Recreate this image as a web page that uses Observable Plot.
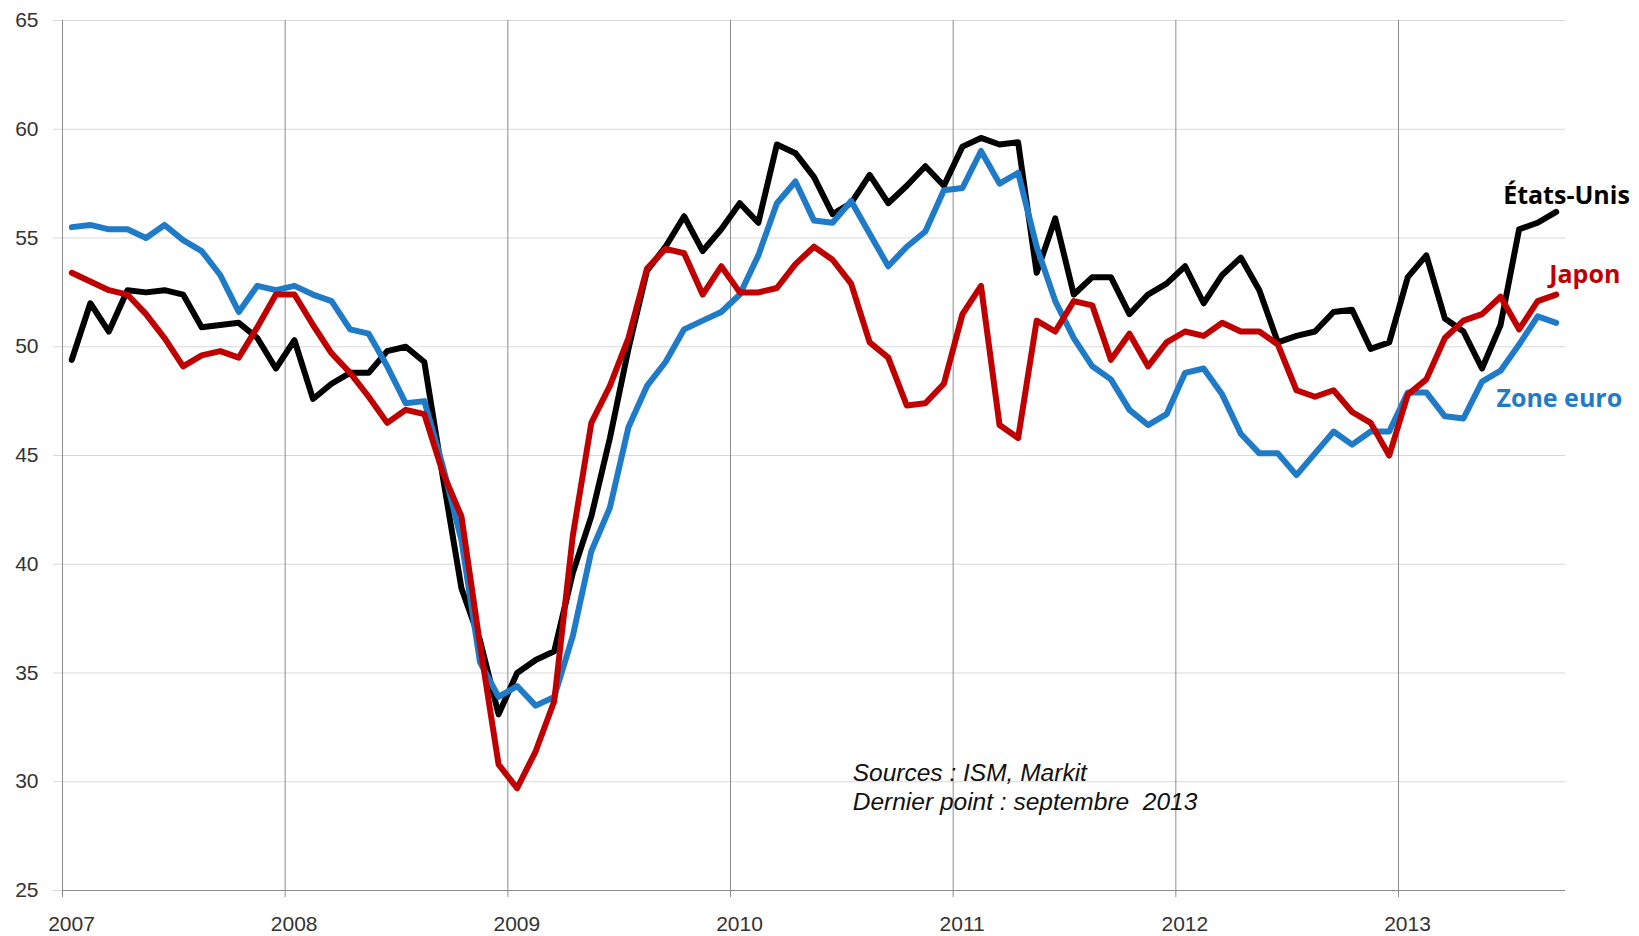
<!DOCTYPE html>
<html>
<head>
<meta charset="utf-8">
<script src="https://cdn.jsdelivr.net/npm/d3@7"></script>
<script src="https://cdn.jsdelivr.net/npm/@observablehq/plot@0.6"></script>
<style>
  html, body { margin: 0; padding: 0; background: #ffffff; }
  #chart svg { display: block; }
</style>
</head>
<body>
<div id="chart"></div>
<script>
// ---- Data (monthly PMI, janvier 2007 – septembre 2013) ----
const years = [2007, 2008, 2009, 2010, 2011, 2012, 2013];
const yTicks = [25, 30, 35, 40, 45, 50, 55, 60, 65];
const firstYear = 2007;

const etatsUnis = [
  49.4, 52.0, 50.7, 52.6, 52.5, 52.6, 52.4, 50.9, 51.0, 51.1, 50.4, 49.0,
  50.3, 47.6, 48.3, 48.8, 48.8, 49.8, 50.0, 49.3, 44.0, 38.9, 36.5, 33.1,
  35.0, 35.6, 36.0, 39.6, 42.2, 45.8, 49.9, 53.5, 54.6, 56.0, 54.4, 55.4,
  56.6, 55.7, 59.3, 58.9, 57.8, 56.1, 56.6, 57.9, 56.6, 57.4, 58.3, 57.4,
  59.2, 59.6, 59.3, 59.4, 53.4, 55.9, 52.4, 53.2, 53.2, 51.5, 52.4, 52.9,
  53.7, 52.0, 53.3, 54.1, 52.6, 50.2, 50.5, 50.7, 51.6, 51.7, 49.9, 50.2,
  53.2, 54.2, 51.3, 50.7, 49.0, 51.0, 55.4, 55.7, 56.2
];
const japon = [
  53.4, 53.0, 52.6, 52.4, 51.5, 50.4, 49.1, 49.6, 49.8, 49.5, 50.9, 52.4,
  52.4, 51.0, 49.7, 48.8, 47.7, 46.5, 47.1, 46.9, 44.2, 42.2, 36.3, 30.8,
  29.7, 31.4, 33.7, 41.3, 46.5, 48.2, 50.4, 53.6, 54.5, 54.3, 52.4, 53.7,
  52.5, 52.5, 52.7, 53.8, 54.6, 54.0, 52.9, 50.2, 49.5, 47.3, 47.4, 48.3,
  51.5, 52.8, 46.4, 45.8, 51.2, 50.7, 52.1, 51.9, 49.4, 50.6, 49.1, 50.2,
  50.7, 50.5, 51.1, 50.7, 50.7, 50.1, 48.0, 47.7, 48.0, 47.0, 46.5, 45.0,
  47.8, 48.5, 50.4, 51.2, 51.5, 52.3, 50.8, 52.1, 52.4
];
const zoneEuro = [
  55.5, 55.6, 55.4, 55.4, 55.0, 55.6, 54.9, 54.4, 53.3, 51.6, 52.8, 52.6,
  52.8, 52.4, 52.1, 50.8, 50.6, 49.1, 47.4, 47.5, 44.5, 41.1, 35.5, 33.9,
  34.4, 33.5, 33.9, 36.7, 40.6, 42.6, 46.3, 48.2, 49.3, 50.8, 51.2, 51.6,
  52.4, 54.2, 56.6, 57.6, 55.8, 55.7, 56.7, 55.2, 53.7, 54.6, 55.3, 57.2,
  57.3, 59.0, 57.5, 58.0, 54.6, 52.1, 50.4, 49.1, 48.5, 47.1, 46.4, 46.9,
  48.8, 49.0, 47.8, 46.0, 45.1, 45.1, 44.1, 45.1, 46.1, 45.5, 46.1, 46.1,
  47.9, 47.9, 46.8, 46.7, 48.4, 48.9, 50.1, 51.4, 51.1
];
const seriesNames = ["États-Unis", "Japon", "Zone euro"];
const seriesColors = ["#000000", "#c00000", "#1f7bc8"];
const sourceLines = ["Sources : ISM, Markit", "Dernier point : septembre\u00a0 2013"];

// months are plotted at the centre of each monthly category
const toRows = (vals, name) => vals.map((v, i) => ({ t: firstYear + (i + 0.5) / 12, v, name }));
const rowsUS = toRows(etatsUnis, seriesNames[0]);
const rowsJP = toRows(japon, seriesNames[1]);
const rowsEU = toRows(zoneEuro, seriesNames[2]);

const labels = [
  { name: seriesNames[0], x: 2013.47, y: 56.95, color: seriesColors[0] },
  { name: seriesNames[1], x: 2013.677, y: 53.28, color: seriesColors[1] },
  { name: seriesNames[2], x: 2013.44, y: 47.62, color: seriesColors[2] }
];

const lineOpts = (color) => ({
  x: "t", y: "v", stroke: color, strokeWidth: 6,
  strokeLinejoin: "round", strokeLinecap: "round"
});

const chart = Plot.plot({
  width: 1639,
  height: 936,
  marginLeft: 62,
  marginRight: 74,
  marginTop: 20,
  marginBottom: 46,
  x: { type: "linear", domain: [2007, 2013.75], axis: null },
  y: { domain: [25, 65], axis: null },
  style: {
    fontFamily: "'Liberation Sans', Arial, sans-serif",
    fontSize: "21px",
    background: "#ffffff",
    overflow: "visible"
  },
  marks: [
    Plot.gridY(yTicks, { stroke: "#d9d9d9", strokeOpacity: 1, strokeWidth: 1 }),
    Plot.gridX(years, { stroke: "#8c8c8c", strokeOpacity: 1, strokeWidth: 1 }),
    Plot.ruleY([25], { stroke: "#8c8c8c", strokeWidth: 1 }),
    Plot.axisY(yTicks, {
      tickSize: 9, tickPadding: 15, stroke: "#d9d9d9", fill: "#333333",
      tickFormat: (d) => String(d)
    }),
    Plot.axisX(years, { tickSize: 7, stroke: "#8c8c8c", tickFormat: () => "" }),
    Plot.axisX(years, {
      tickSize: 0, tickPadding: 26, dx: 9, fill: "#333333",
      tickFormat: (d) => String(d)
    }),
    Plot.line(rowsUS, lineOpts(seriesColors[0])),
    Plot.line(rowsEU, lineOpts(seriesColors[2])),
    Plot.line(rowsJP, lineOpts(seriesColors[1])),
    Plot.text(labels, {
      x: "x", y: "y", text: "name", fill: "color",
      textAnchor: "start", fontFamily: "'Open Sans', sans-serif",
      fontWeight: 700, fontSize: 25
    }),
    Plot.text(sourceLines, {
      x: () => 2010.549,
      y: (d, i) => 30.38 - i * 1.33,
      text: (d) => d,
      textAnchor: "start",
      fontStyle: "italic",
      fontSize: 24.5,
      fill: "#111111"
    })
  ]
});

document.getElementById("chart").appendChild(chart);
</script>
</body>
</html>
